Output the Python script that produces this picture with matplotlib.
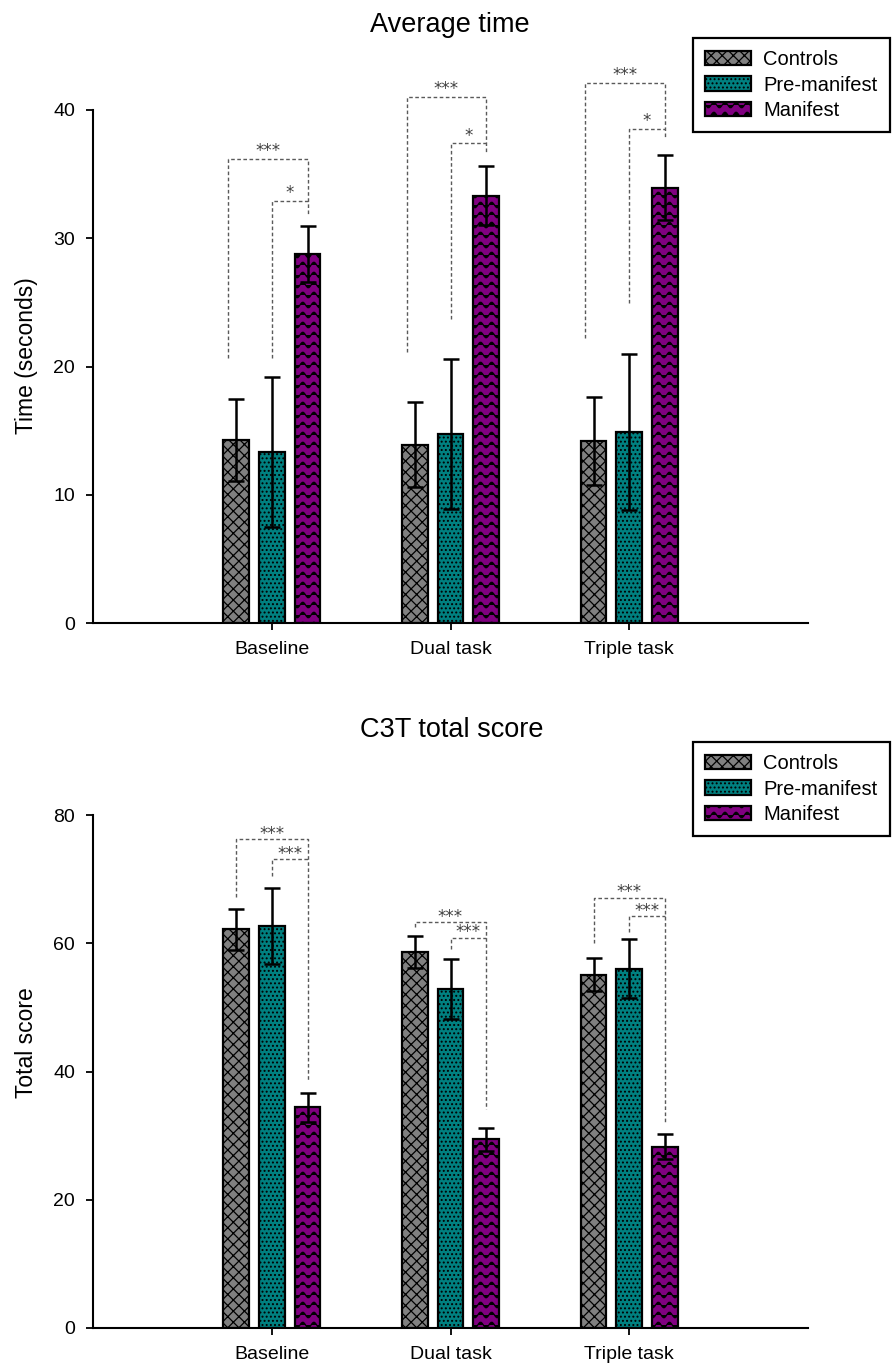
import numpy as np
import matplotlib
matplotlib.use("Agg")
import matplotlib.pyplot as plt
from matplotlib import hatch as mhatch
from matplotlib.path import Path
from matplotlib.patches import Patch

# ---------------------------------------------------------------- data
conditions = ["Baseline", "Dual task", "Triple task"]
groups = ["Controls", "Pre-manifest", "Manifest"]

# Average time (seconds): mean and SD per group, one value per condition
time_controls = [14.3, 13.9, 14.2]
time_controls_sd = [3.2, 3.3, 3.45]
time_premanifest = [13.3, 14.75, 14.9]
time_premanifest_sd = [5.85, 5.85, 6.1]
time_manifest = [28.75, 33.3, 33.95]
time_manifest_sd = [2.2, 2.3, 2.55]

# C3T total score: mean and SD per group
score_controls = [62.2, 58.6, 55.1]
score_controls_sd = [3.2, 2.5, 2.55]
score_premanifest = [62.7, 52.85, 56.0]
score_premanifest_sd = [5.9, 4.7, 4.6]
score_manifest = [34.4, 29.4, 28.3]
score_manifest_sd = [2.2, 1.8, 1.9]

# Significance brackets (controls vs manifest = outer, pre-manifest vs manifest = inner)
time_outer_top = [36.2, 41.05, 42.1]
time_outer_foot = [20.7, 21.15, 22.2]
time_inner_top = [32.9, 37.4, 38.55]
time_inner_foot = [20.7, 23.7, 24.95]
time_right_foot = [31.8, 36.75, 37.8]
time_outer_sig = ["***", "***", "***"]
time_inner_sig = ["*", "*", "*"]

score_outer_top = [76.25, 63.3, 67.1]
score_outer_foot = [67.25, 62.6, 60.1]
score_inner_top = [73.1, 60.85, 64.2]
score_inner_foot = [70.5, 59.05, 61.8]
score_right_foot = [38.7, 34.1, 32.2]
score_outer_sig = ["***", "***", "***"]
score_inner_sig = ["***", "***", "***"]

# ---------------------------------------------------------------- wavy hatch
class WaveHatch(mhatch.HatchPatternBase):
    """Rows of small waves, used for the '*' hatch character."""

    def __init__(self, hatch, density):
        n = hatch.count("*")
        self.num_rows = 10 * n if n else 0
        self.periods = 9
        self.num_pts = self.periods * 10 + 1
        self.num_vertices = self.num_rows * self.num_pts

    def set_vertices_and_codes(self, vertices, codes):
        xs = np.linspace(0.0, 1.0, self.num_pts)
        amp = 0.28 / self.num_rows
        for i in range(self.num_rows):
            y0 = (i + 0.5) / self.num_rows
            sl = slice(i * self.num_pts, (i + 1) * self.num_pts)
            vertices[sl, 0] = xs
            vertices[sl, 1] = y0 + amp * np.sin(2 * np.pi * self.periods * xs)
            codes[sl] = Path.LINETO
            codes[i * self.num_pts] = Path.MOVETO


mhatch._hatch_types = [t for t in mhatch._hatch_types if t is not mhatch.Stars] + [WaveHatch]

# ---------------------------------------------------------------- style
plt.rcParams["font.family"] = ["Liberation Sans", "DejaVu Sans"]
plt.rcParams["hatch.linewidth"] = 0.9

colors = ["#808080", "#008080", "#800080"]
hatches = ["xxx", "....", "*"]
offsets = [-0.2, 0.0, 0.2]
bar_width = 0.145
bracket_color = "#5a5a5a"

W, H = 892, 1370
fig = plt.figure(figsize=(W / 100, H / 100), dpi=100)


def fig_box(left, top, right, bottom):
    return [left / W, 1 - bottom / H, (right - left) / W, (bottom - top) / H]


def draw_panel(ax, means, sds, outer_top, outer_foot, inner_top, inner_foot,
               right_foot, outer_sig, inner_sig, ymax, ystep, ylabel,
               label_y, outer_shift, star_offset):
    x = np.arange(len(conditions))
    for k in range(3):
        ax.bar(x + offsets[k], means[k], width=bar_width, color=colors[k],
               edgecolor="black", linewidth=1.6, hatch=hatches[k], zorder=2)
        ax.errorbar(x + offsets[k], means[k], yerr=sds[k], fmt="none",
                    ecolor="black", elinewidth=1.8, capsize=5.8,
                    capthick=1.8, zorder=3)

    star_kw = dict(textcoords="offset points", ha="center", va="baseline",
                   fontsize=12, family="DejaVu Sans", color="#404040",
                   annotation_clip=False)
    for i in range(len(conditions)):
        xc = x[i] + offsets[0] + outer_shift
        xp = x[i] + offsets[1]
        xm = x[i] + offsets[2]
        ax.plot([xc, xc, xm, xm],
                [outer_foot[i], outer_top[i], outer_top[i], right_foot[i]],
                ls=(0, (2.6, 1.8)), color=bracket_color, lw=1.0,
                clip_on=False, zorder=4)
        ax.plot([xp, xp, xm],
                [inner_foot[i], inner_top[i], inner_top[i]],
                ls=(0, (2.6, 1.8)), color=bracket_color, lw=1.0,
                clip_on=False, zorder=4)
        ax.annotate(outer_sig[i], ((xc + xm) / 2, outer_top[i]),
                    xytext=(0, star_offset), **star_kw)
        ax.annotate(inner_sig[i], ((xp + xm) / 2, inner_top[i]),
                    xytext=(0, star_offset), **star_kw)

    ax.set_xlim(-1.0, 3.0)
    ax.set_ylim(0, ymax)
    ax.set_yticks(np.arange(0, ymax + ystep / 2, ystep))
    ax.set_xticks(x)
    ax.set_xticklabels(conditions)
    for s in ("top", "right"):
        ax.spines[s].set_visible(False)
    for s in ("left", "bottom"):
        ax.spines[s].set_linewidth(1.5)
    ax.tick_params(axis="x", length=5, width=1.3, pad=8, labelsize=14)
    ax.tick_params(axis="y", length=5, width=1.3, pad=8, labelsize=14)
    ax.set_ylabel(ylabel, fontsize=16.5)
    ax.yaxis.set_label_coords(-0.077, label_y)


def add_legend(top_px):
    handles = [Patch(facecolor=colors[k], edgecolor="black", hatch=hatches[k],
                     linewidth=1.6) for k in range(3)]
    leg = fig.legend(handles, groups, loc="upper left",
                     bbox_to_anchor=(693 / W, 1 - top_px / H),
                     bbox_transform=fig.transFigure, borderaxespad=0,
                     fontsize=14.5, frameon=True, fancybox=False,
                     edgecolor="black", framealpha=1, handlelength=2.3,
                     handleheight=0.7, handletextpad=0.6,
                     labelspacing=0.32, borderpad=0.6)
    leg.get_frame().set_linewidth(1.6)


# ---------------------------------------------------------------- panel 1
ax1 = fig.add_axes(fig_box(93, 110, 808, 623))
draw_panel(ax1,
           [time_controls, time_premanifest, time_manifest],
           [time_controls_sd, time_premanifest_sd, time_manifest_sd],
           time_outer_top, time_outer_foot, time_inner_top, time_inner_foot,
           time_right_foot, time_outer_sig, time_inner_sig,
           40, 10, "Time (seconds)", 0.522, -0.045, 2.0)
fig.text(450 / W, 1 - 32 / H, "Average time", ha="center", va="baseline",
         fontsize=19.5)
add_legend(38)

# ---------------------------------------------------------------- panel 2
ax2 = fig.add_axes(fig_box(93, 815, 808, 1328))
draw_panel(ax2,
           [score_controls, score_premanifest, score_manifest],
           [score_controls_sd, score_premanifest_sd, score_manifest_sd],
           score_outer_top, score_outer_foot, score_inner_top,
           score_inner_foot, score_right_foot, score_outer_sig,
           score_inner_sig, 80, 20, "Total score", 0.557, 0.0, 0.3)
fig.text(452 / W, 1 - 737 / H, "C3T total score", ha="center",
         va="baseline", fontsize=19.5)
add_legend(742)

fig.savefig("out.png", dpi=100)
